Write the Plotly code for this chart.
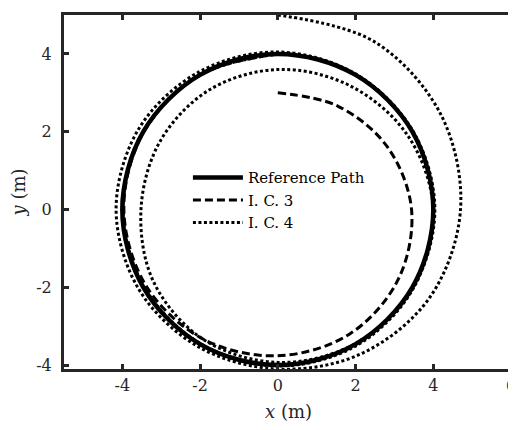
import plotly.graph_objects as go

# reference path (circle, r = 4), clockwise from the top
ref_x = [0, 2.00, 3.46, 4.00, 3.46, 2.00, 0, -2.00, -3.46, -4.00, -3.46, -2.00, 0]
ref_y = [4.00, 3.46, 2.00, 0, -2.00, -3.46, -4.00, -3.46, -2.00, 0, 2.00, 3.46, 4.00]

# I. C. 3 (starts inside at (0, 3))
ic3_x = [0, 1.54, 2.81, 3.44, 3.10, 1.85, 0, -1.92, -3.39, -3.96, -3.45, -2.00, 0]
ic3_y = [3.00, 2.66, 1.62, 0, -1.79, -3.20, -3.76, -3.33, -1.96, 0, 1.99, 3.46, 4.00]

# I. C. 4 (starts outside at (0, 5))
ic4_x = [0, 2.49, 4.20, 4.70, 3.91, 2.14, 0, -2.04, -3.57, -4.16, -3.58, -2.04,
         0, 2.01, 3.48, 4.04, 3.48, 1.99, 0, -1.93, -3.20, -3.52, -3.03, -1.77,
         0, 1.84, 3.33, 4.00, 3.49, 2.02, 0, -1.99, -3.44, -3.98, -3.46, -2.00, 0]
ic4_y = [5.00, 4.31, 2.43, 0, -2.26, -3.71, -4.10, -3.53, -2.06, 0, 2.07, 3.53,
         4.05, 3.48, 2.01, 0, -2.01, -3.45, -3.93, -3.33, -1.85, 0, 1.75, 3.07,
         3.60, 3.19, 1.92, 0, -2.02, -3.50, -4.02, -3.45, -1.99, 0, 2.00, 3.46, 4.00]

x_ticks = [-4, -2, 0, 2, 4, 6]
y_ticks = [-4, -2, 0, 2, 4]

FONT = "DejaVu Serif"
INK = "#262626"

fig = go.Figure()
fig.add_trace(go.Scatter(
    x=ref_x, y=ref_y, name="Reference Path", mode="lines",
    line=dict(color="black", width=4.5, shape="spline", smoothing=1)
))
fig.add_trace(go.Scatter(
    x=ic3_x, y=ic3_y, name="I. C. 3", mode="lines",
    line=dict(color="black", width=3, dash="8px,4px", shape="spline", smoothing=1)
))
fig.add_trace(go.Scatter(
    x=ic4_x, y=ic4_y, name="I. C. 4", mode="lines",
    line=dict(color="black", width=3, dash="3px,2.5px", shape="spline", smoothing=1)
))

axis_style = dict(
    showgrid=False, zeroline=False, automargin=False,
    showline=True, linewidth=3, linecolor=INK, mirror="ticks",
    ticks="inside", ticklen=5, tickwidth=2.5, tickcolor=INK,
    tickfont=dict(family=FONT, size=16, color=INK),
    ticklabeloverflow="allow",
)

# the page body adds an 8px offset, so the figure is 8px smaller than the window
fig.update_layout(
    width=508, height=422,
    plot_bgcolor="white", paper_bgcolor="white",
    margin=dict(l=56, r=3, t=7, b=61),
    xaxis=dict(range=[-5.5, 6.05], tickvals=x_ticks, ticktext=[str(v) for v in x_ticks],
               ticklabelstandoff=0,
               title=dict(text="<i>x</i> (m)", font=dict(family=FONT, size=18, color=INK), standoff=12),
               **axis_style),
    yaxis=dict(range=[-4.1, 5], tickvals=y_ticks, ticktext=[str(v) for v in y_ticks],
               ticklabelstandoff=6,
               title=dict(text="<i>y</i> (m)", font=dict(family=FONT, size=18, color=INK), standoff=13),
               **axis_style),
    legend=dict(x=0.276, y=0.587, xanchor="left", yanchor="top",
                bgcolor="rgba(0,0,0,0)", itemwidth=50, tracegroupgap=0,
                font=dict(family=FONT, size=15, color="black")),
)

fig.write_html("out.html")
